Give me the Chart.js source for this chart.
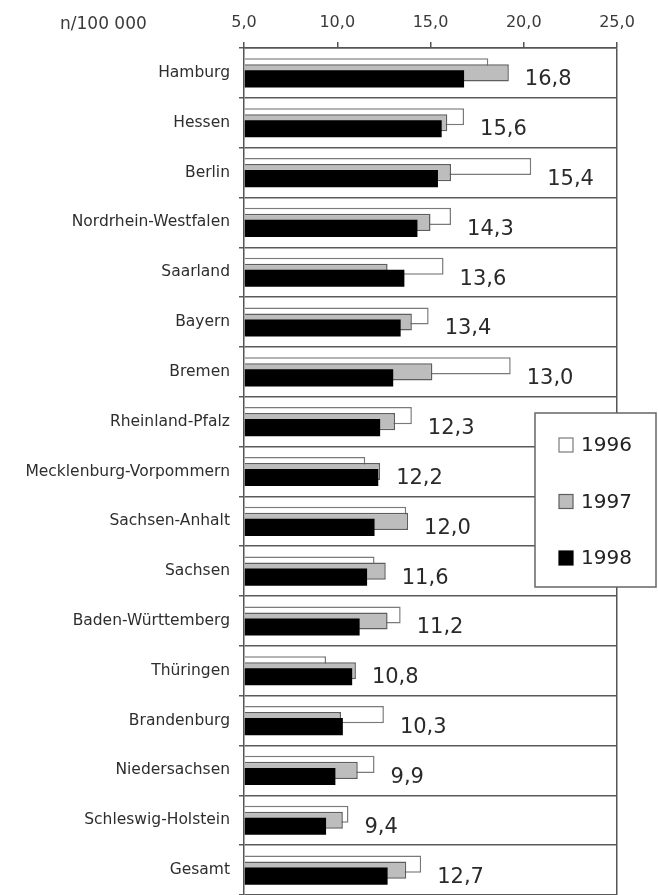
<!DOCTYPE html>
<html>
<head>
<meta charset="utf-8">
<script src="https://cdn.jsdelivr.net/npm/chart.js@4/dist/chart.umd.min.js"></script>
<style>
  html, body { margin: 0; padding: 0; background: #fff; }
  #wrap { width: 658px; height: 895px; position: relative; }
</style>
</head>
<body>
<div id="wrap"><canvas id="rateChart"></canvas></div>
<script>
// Werte je Bundesland (n/100 000)
const laender = ['Hamburg', 'Hessen', 'Berlin', 'Nordrhein-Westfalen', 'Saarland', 'Bayern', 'Bremen',
    'Rheinland-Pfalz', 'Mecklenburg-Vorpommern', 'Sachsen-Anhalt', 'Sachsen', 'Baden-Württemberg',
    'Thüringen', 'Brandenburg', 'Niedersachsen', 'Schleswig-Holstein', 'Gesamt'];
const jahre = ['1996', '1997', '1998'];
const werte1996 = [18.1, 16.8, 20.4, 16.1, 15.7, 14.9, 19.3, 14.0, 11.5, 13.7, 12.0, 13.4, 9.4, 12.5, 12.0, 10.6, 14.5];
const werte1997 = [19.2, 15.9, 16.1, 15.0, 12.7, 14.0, 15.1, 13.1, 12.3, 13.8, 12.6, 12.7, 11.0, 10.2, 11.1, 10.3, 13.7];
const werte1998 = [16.8, 15.6, 15.4, 14.3, 13.6, 13.4, 13.0, 12.3, 12.2, 12.0, 11.6, 11.2, 10.8, 10.3, 9.9, 9.4, 12.7];
const xTicks = [5, 10, 15, 20, 25];

const fillColors = ['#ffffff', '#bdbdbd', '#000000'];
const lineColors = ['#7a7a7a', '#5e5e5e', '#000000'];
const komma = v => v.toFixed(1).replace('.', ',');

Chart.defaults.font.family = '"DejaVu Sans", sans-serif';

// 1998 soll oben liegen: Datensätze in normaler Reihenfolge zeichnen (mit Clip)
const drawOrder = {
    id: 'drawOrder',
    beforeDatasetsDraw(chart) {
        const ctx = chart.ctx, a = chart.chartArea;
        ctx.save();
        ctx.beginPath();
        ctx.rect(a.left, a.top, a.right - a.left, a.bottom - a.top);
        ctx.clip();
        chart.getSortedVisibleDatasetMetas().forEach(meta => meta.controller.draw());
        ctx.restore();
        return false;
    }
};

const extras = {
    id: 'extras',
    afterDraw(chart) {
        const ctx = chart.ctx;
        ctx.save();

        // Einheit oben links
        ctx.fillStyle = '#3a3a3a';
        ctx.font = '17px "DejaVu Sans"';
        ctx.textAlign = 'left';
        ctx.textBaseline = 'middle';
        ctx.fillText('n/100 000', 60, 25);

        // Werte 1998 rechts neben den Balken
        const metas = [0, 1, 2].map(i => chart.getDatasetMeta(i));
        ctx.font = '21px "DejaVu Sans"';
        ctx.fillStyle = '#2a2a2a';
        werte1998.forEach((v, j) => {
            const right = Math.max(...metas.map(m => m.data[j].x));
            ctx.fillText(komma(v), right + 16, metas[2].data[j].y + 1);
        });

        // Legende
        const bx = 535, by = 413, bw = 121, bh = 174;
        ctx.fillStyle = '#ffffff';
        ctx.fillRect(bx, by, bw, bh);
        ctx.strokeStyle = '#666';
        ctx.lineWidth = 1.5;
        ctx.strokeRect(bx, by, bw, bh);
        ctx.font = '20px "DejaVu Sans"';
        jahre.forEach((j, i) => {
            const cy = by + 32 + i * 56.5;
            ctx.fillStyle = fillColors[i];
            ctx.fillRect(559, cy - 7, 14, 14);
            ctx.strokeStyle = lineColors[i];
            ctx.lineWidth = 1.2;
            ctx.strokeRect(559, cy - 7, 14, 14);
            ctx.fillStyle = '#222';
            ctx.fillText(j, 581, cy + 1);
        });
        ctx.restore();
    }
};

const datasets = [werte1996, werte1997, werte1998].map((d, i) => ({
    label: jahre[i],
    data: d,
    base: xTicks[0],
    backgroundColor: fillColors[i],
    borderColor: lineColors[i],
    borderWidth: i === 2 ? 0 : 1.5,
    borderSkipped: 'start',
    categoryPercentage: 0.362,
    barPercentage: 2.85
}));

new Chart(document.getElementById('rateChart'), {
    type: 'bar',
    data: { labels: laender, datasets: datasets },
    plugins: [drawOrder, extras],
    options: {
        indexAxis: 'y',
        responsive: true,
        maintainAspectRatio: false,
        animation: false,
        layout: { padding: { left: 0, right: 41, top: 0, bottom: 0 } },
        plugins: {
            legend: { display: false },
            tooltip: { enabled: false }
        },
        scales: {
            x: {
                position: 'top',
                min: 5,
                max: 25,
                afterBuildTicks: s => { s.ticks = xTicks.map(v => ({ value: v })); },
                afterFit: s => { s.height = 48; },
                ticks: {
                    callback: v => komma(v),
                    color: '#3a3a3a',
                    font: { size: 16 },
                    padding: 10,
                    maxRotation: 0
                },
                grid: {
                    drawOnChartArea: true,
                    color: c => c.index === xTicks.length - 1 ? '#555' : 'rgba(0,0,0,0)',
                    tickColor: '#555',
                    tickLength: 6,
                    lineWidth: 1.5
                },
                border: { color: '#555', width: 1.5 }
            },
            y: {
                afterFit: s => { s.width = 244; s.paddingTop = 0; s.paddingBottom = 0; },
                ticks: {
                    color: '#2e2e2e',
                    font: { size: 15.5 },
                    padding: 9,
                    autoSkip: false
                },
                grid: {
                    offset: true,
                    color: '#5a5a5a',
                    lineWidth: 1.5,
                    tickLength: 5
                },
                border: { color: '#555', width: 1.5 }
            }
        }
    }
});
</script>
</body>
</html>
